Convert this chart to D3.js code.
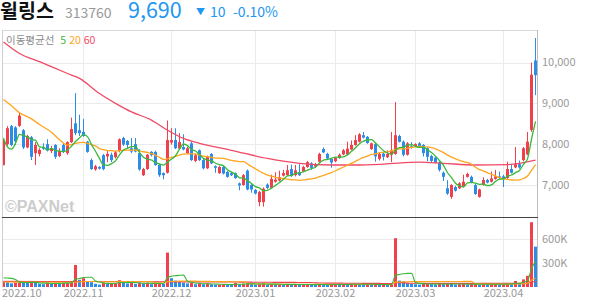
<!DOCTYPE html>
<html>
<head>
<meta charset="utf-8">
<script src="https://cdnjs.cloudflare.com/ajax/libs/d3/7.8.5/d3.min.js"></script>
<style>
body { margin: 0; background: #fff; }
svg { display: block; }
</style>
</head>
<body>
<svg></svg>
<script>
let dates = [
  "2022.09.30",
  "2022.10.04","2022.10.05","2022.10.06","2022.10.07","2022.10.11","2022.10.12","2022.10.13","2022.10.14","2022.10.17","2022.10.18",
  "2022.10.19","2022.10.20","2022.10.21","2022.10.24","2022.10.25","2022.10.26","2022.10.27","2022.10.28","2022.10.31",
  "2022.11.01","2022.11.02","2022.11.03","2022.11.04","2022.11.07","2022.11.08","2022.11.09","2022.11.10","2022.11.11","2022.11.14",
  "2022.11.15","2022.11.16","2022.11.17","2022.11.18","2022.11.21","2022.11.22","2022.11.23","2022.11.24","2022.11.25","2022.11.28",
  "2022.11.29","2022.11.30",
  "2022.12.01","2022.12.02","2022.12.05","2022.12.06","2022.12.07","2022.12.08","2022.12.09","2022.12.12","2022.12.13","2022.12.14",
  "2022.12.15","2022.12.16","2022.12.19","2022.12.20","2022.12.21","2022.12.22","2022.12.23","2022.12.26","2022.12.27","2022.12.28",
  "2022.12.29",
  "2023.01.02","2023.01.03","2023.01.04","2023.01.05","2023.01.06","2023.01.09","2023.01.10","2023.01.11","2023.01.12","2023.01.13",
  "2023.01.16","2023.01.17","2023.01.18","2023.01.19","2023.01.20","2023.01.25","2023.01.26","2023.01.27","2023.01.30","2023.01.31",
  "2023.02.01","2023.02.02","2023.02.03","2023.02.06","2023.02.07","2023.02.08","2023.02.09","2023.02.10","2023.02.13","2023.02.14",
  "2023.02.15","2023.02.16","2023.02.17","2023.02.20","2023.02.21","2023.02.22","2023.02.23","2023.02.24","2023.02.27","2023.02.28",
  "2023.03.02","2023.03.03","2023.03.06","2023.03.07","2023.03.08","2023.03.09","2023.03.10","2023.03.13","2023.03.14","2023.03.15",
  "2023.03.16","2023.03.17","2023.03.20","2023.03.21","2023.03.22","2023.03.23","2023.03.24","2023.03.27","2023.03.28","2023.03.29",
  "2023.03.30","2023.03.31",
  "2023.04.03","2023.04.04","2023.04.05","2023.04.06","2023.04.07","2023.04.10","2023.04.11","2023.04.12","2023.04.13"
]

let opens = [
  7490,8000,8440,8410,8450,8340,7920,8170,7780,7760, 7930,8000,7830,7980,7710,7980,7780,8050,8510,8340,
  8300,8060,7610,7380,7440,7730,7700,7740,7680,7830, 8150,8080,7900,8000,7780,7240,7390,7810,7810,7490,
  7290,7300,8040,8100,7890,7930,7780,8020,7590,7850, 7610,7410,7760,7460,7290,7440,7320,7290,7290,7040,
  7000,7350,7000,6880,6580,6580,7010,6930,7080,7110, 7230,7240,7390,7240,7320,7330,7440,7530,7450,7570,
  7880,7760,7640,7580,7660,7750,7750,7870,7980,8060, 8220,8180,7880,8000,7640,7770,7680,7740,7760,8200,
  8060,7740,7950,7950,8020,7980,7900,7710,7670,7550, 7300,6920,6710,6950,6920,6960,7200,7200,7000,6710,
  7000,7120,7080,7150,7210,7210,7170,7390,7430,7510, 7610,7750,8350,10050
]
let highs = [
  8120,8440,8470,8440,8780,8370,8230,8200,8050,7900, 8020,8120,7960,8000,7900,8020,8070,8650,9250,8720,
  8620,8080,7650,7490,7460,7760,7830,7790,7840,8140, 8180,8100,8150,8150,7880,7420,7760,7830,7840,7510,
  7310,8580,8390,8390,8270,8240,7930,8060,7760,7870, 7640,7720,7780,7480,7470,7470,7340,7320,7310,7060,
  7270,7380,7020,6900,6860,6940,7040,7250,7310,7350, 7370,7490,7500,7490,7510,7470,7590,7560,7540,7790,
  7920,7790,7660,7680,7770,7880,8060,8090,8220,8270, 8300,8200,8040,8030,7800,7800,7850,8300,9030,8230,
  8090,8050,8050,8020,8050,8000,7920,7740,7700,7580, 7330,7120,7020,6980,7070,7250,7300,7230,7030,6910,
  7190,7150,7330,7370,7330,7250,7570,7500,7930,7600, 7930,8300,10000,10600
]
let lows = [
  7480,7960,7950,7980,8420,7880,7900,7610,7490,7700, 7860,7820,7780,7640,7680,7780,7740,8030,8220,8200,
  8180,7790,7370,7350,7380,7360,7560,7560,7650,7800, 7960,7900,7780,7800,7350,7220,7370,7700,7470,7200,
  7140,7280,7990,7880,7870,7850,7760,7590,7560,7590, 7380,7390,7510,7300,7270,7260,7180,7220,7150,6870,
  6980,6870,6810,6770,6480,6470,6900,6910,7060,7090, 7210,7220,7200,7210,7220,7310,7420,7370,7430,7550,
  7780,7630,7420,7560,7640,7730,7730,7850,7960,8040, 8140,8010,7860,7570,7600,7600,7660,7560,7740,8040,
  7700,7720,7890,7930,7910,7700,7580,7560,7530,7330, 7100,6760,6660,6840,6900,6940,7180,7040,6760,6690,
  6980,7040,7060,7130,7150,6950,7150,7280,7410,7400, 7580,7730,8300,9200
]
let closes = [
  8070,8390,7980,8070,8700,7920,8200,7690,7980,7860, 7890,7850,7900,7690,7830,7810,8050,8370,8270,8270,
  8200,7810,7390,7460,7400,7390,7760,7610,7800,8120, 7990,7980,7820,7820,7380,7390,7740,7730,7490,7240,
  7240,8100,8100,7900,8050,7870,7900,7610,7730,7610, 7410,7690,7530,7420,7440,7280,7200,7240,7170,6990,
  7240,6890,6890,6790,6830,6910,6930,7150,7130,7190, 7290,7360,7220,7360,7240,7440,7560,7420,7510,7760,
  7800,7650,7550,7660,7740,7850,7890,7980,8100,8240, 8160,8030,8020,7700,7760,7690,7760,7850,8220,8060,
  7740,8020,7910,8000,7930,7780,7690,7590,7550,7370, 7200,6790,7000,6860,7040,7080,7270,7060,6780,6890,
  7120,7060,7160,7210,7170,7150,7390,7300,7510,7430, 7900,8060,9700,9690
]
// volume, thousands of shares
let volumes = [
  75,60,45,55,70,55,50,60,55,40, 35,50,40,55,45,50,55,60,275,90,
  110,70,60,40,30,55,40,45,50,85, 60,45,50,40,55,45,50,35,45,50,
  40,430,110,80,70,55,45,50,35,40, 35,45,35,30,30,35,30,25,50,35,
  40,45,35,30,40,45,30,35,30,35, 30,35,30,35,25,30,35,30,25,35,
  30,25,30,35,30,35,30,35,40,35, 30,35,30,35,25,30,25,40,610,80,
  70,50,40,35,30,40,45,35,30,40, 35,45,40,30,35,40,30,35,40,30,
  35,30,35,40,30,35,50,35,75,40, 95,140,810,505
]

let ma5Head = [[0, 8150], [1, 7930], [2, 7880], [3, 8020]]
let ma20Head = [[0, 9095], [2, 8940], [4, 8770], [7, 8620], [9, 8480], [12, 8290], [14, 8110], [16, 7975], [18, 8017]]
let ma60Line = [[0, 10500], [4, 10220], [9, 10020], [16, 9730], [19, 9610], [24, 9240], [28, 9000], [32, 8790],
  [37, 8590], [41, 8340], [45, 8140], [49, 8020], [57, 7850], [66, 7650], [74, 7530], [82, 7490], [88, 7490],
  [95, 7510], [104, 7560], [110, 7530], [118, 7490], [126, 7500], [133, 7610]]
let volMa5Head = [[0, 115], [1, 112], [2, 108], [3, 95]]
let volMa20Head = [[0, 62], [10, 60], [18, 60]]
let volMa60Head = [[0, 70], [20, 68], [40, 65], [58, 62]]

let priceTicks = [7000, 8000, 9000, 10000]
let volTicks = [300, 600]
let monthLabels = ["2022.10", "2022.11", "2022.12", "2023.01", "2023.02", "2023.03", "2023.04"]

let width = 594
let height = 304
let left = 2
let right = 537
let priceTop = 30
let priceBottom = 217
let volBottom = 287

let red = '#f0404b'
let blue = '#2d8ce6'
let green = '#3ab83a'
let orange = '#ffa51e'
let pink = '#f04a66'
let font = '"Noto Sans CJK KR", "Noto Sans", sans-serif'

let svg = d3.select('svg').attr('width', width).attr('height', height)

let xScale = d3.scaleBand().domain(dates).range([1, right]).padding(0)
let xMid = (i) => xScale(dates[i]) + 2.5
let yScale = d3.scaleLinear().domain([6216, 10796]).range([priceBottom, priceTop])
let vScale = d3.scaleLinear().domain([0, 875]).range([volBottom, priceBottom])

let movingAvg = (vals, n, head) => {
  let pts = head.map(([i, v]) => ({ i: i, v: v }))
  for (let i = n - 1; i < vals.length; i++) {
    pts.push({ i: i, v: d3.mean(vals.slice(i - n + 1, i + 1)) })
  }
  return pts
}

// clip paths
let defs = svg.append('defs')
defs.append('clipPath').attr('id', 'clipPrice').append('rect')
  .attr('x', left).attr('y', priceTop).attr('width', right - left).attr('height', priceBottom - priceTop)
defs.append('clipPath').attr('id', 'clipVol').append('rect')
  .attr('x', left).attr('y', priceBottom).attr('width', right - left).attr('height', volBottom - priceBottom)

// grid
let grid = svg.append('g')
grid.selectAll('.pg').data(priceTicks).enter().append('line')
  .attr('x1', left).attr('x2', right)
  .attr('y1', d => Math.round(yScale(d)) + 0.5).attr('y2', d => Math.round(yScale(d)) + 0.5)
  .attr('stroke', '#ebebeb')
grid.selectAll('.vg').data(volTicks).enter().append('line')
  .attr('x1', left).attr('x2', right)
  .attr('y1', d => Math.round(vScale(d)) + 0.5).attr('y2', d => Math.round(vScale(d)) + 0.5)
  .attr('stroke', '#ebebeb')

let monthPos = monthLabels.map(m => {
  let i = dates.findIndex(d => d.slice(0, 7) == m)
  return { label: m, x: xMid(i) }
})
grid.selectAll('.mg').data(monthPos.filter(d => d.x > 30)).enter().append('line')
  .attr('x1', d => d.x).attr('x2', d => d.x)
  .attr('y1', priceTop).attr('y2', volBottom)
  .attr('stroke', '#ebebeb')

// watermark
svg.append('text')
  .attr('x', 5).attr('y', 212)
  .attr('font-family', '"Liberation Sans", Arial, sans-serif')
  .attr('font-weight', 'bold').attr('font-size', 16)
  .attr('fill', '#cdcdcd')
  .text('©PAXNet')

// candles
let candles = svg.append('g').attr('clip-path', 'url(#clipPrice)')
candles.selectAll('line').data(dates).enter().append('line')
  .attr('x1', (d, i) => xMid(i)).attr('x2', (d, i) => xMid(i))
  .attr('y1', (d, i) => yScale(highs[i])).attr('y2', (d, i) => yScale(lows[i]))
  .attr('stroke', (d, i) => closes[i] >= opens[i] ? red : blue)
candles.selectAll('rect').data(dates).enter().append('rect')
  .attr('x', d => xScale(d) + 1)
  .attr('width', 3)
  .attr('y', (d, i) => yScale(Math.max(opens[i], closes[i])))
  .attr('height', (d, i) => Math.max(1, Math.abs(yScale(opens[i]) - yScale(closes[i]))))
  .attr('fill', (d, i) => closes[i] >= opens[i] ? red : blue)

// price moving averages
let priceLine = d3.line().x(d => xMid(d.i)).y(d => yScale(d.v)).curve(d3.curveMonotoneX)
let maG = svg.append('g').attr('clip-path', 'url(#clipPrice)').attr('fill', 'none').attr('stroke-width', 1.3)
maG.append('path').attr('d', priceLine(ma60Line.map(([i, v]) => ({ i: i, v: v })))).attr('stroke', pink)
maG.append('path').attr('d', priceLine(movingAvg(closes, 20, ma20Head))).attr('stroke', orange)
maG.append('path').attr('d', priceLine(movingAvg(closes, 5, ma5Head))).attr('stroke', green)

// volume bars, coloured by change against the previous day
let vols = svg.append('g').attr('clip-path', 'url(#clipVol)')
vols.selectAll('rect').data(dates).enter().append('rect')
  .attr('x', d => xScale(d) + 1)
  .attr('width', 3)
  .attr('y', (d, i) => vScale(volumes[i]))
  .attr('height', (d, i) => volBottom - vScale(volumes[i]))
  .attr('fill', (d, i) => (i == 0 || volumes[i] >= volumes[i - 1]) ? red : blue)

let volLine = d3.line().x(d => xMid(d.i)).y(d => vScale(d.v)).curve(d3.curveMonotoneX)
let vmaG = vols.append('g').attr('fill', 'none').attr('stroke-width', 1.1)
vmaG.append('path').attr('d', volLine(movingAvg(volumes, 60, volMa60Head))).attr('stroke', red)
vmaG.append('path').attr('d', volLine(movingAvg(volumes, 20, volMa20Head))).attr('stroke', orange)
vmaG.append('path').attr('d', volLine(movingAvg(volumes, 5, volMa5Head))).attr('stroke', green)

// frame
svg.append('line').attr('x1', left).attr('x2', right).attr('y1', priceTop + 0.5).attr('y2', priceTop + 0.5).attr('stroke', '#d8d8d8')
svg.append('line').attr('x1', left + 0.5).attr('x2', left + 0.5).attr('y1', priceTop).attr('y2', volBottom).attr('stroke', '#cfcfcf')
svg.append('line').attr('x1', right + 0.5).attr('x2', right + 0.5).attr('y1', priceTop).attr('y2', volBottom).attr('stroke', '#bdbdbd')
svg.append('line').attr('x1', left).attr('x2', right + 1).attr('y1', priceBottom + 0.5).attr('y2', priceBottom + 0.5).attr('stroke', '#444')

// axis labels
let axisText = svg.append('g').attr('font-family', font).attr('font-size', 11).attr('fill', '#999')
axisText.selectAll('.pt').data(priceTicks).enter().append('text')
  .attr('x', 542).attr('y', d => yScale(d)).attr('dy', '0.36em')
  .text(d => d3.format(',')(d))
axisText.selectAll('.vt').data(volTicks).enter().append('text')
  .attr('x', 542).attr('y', d => vScale(d)).attr('dy', '0.36em')
  .text(d => d + 'K')
axisText.selectAll('.mt').data(monthPos).enter().append('text')
  .attr('x', d => d.x < 30 ? 2 : d.x)
  .attr('text-anchor', d => d.x < 30 ? 'start' : 'middle')
  .attr('y', 293).attr('dy', '0.36em')
  .text(d => d.label)

// legend
let legend = svg.append('text').attr('x', 6).attr('y', 44).attr('font-family', font).attr('font-size', 10.5)
legend.append('tspan').attr('fill', '#8a8a8a').text('이동평균선')
legend.append('tspan').attr('fill', green).attr('dx', 6).text('5')
legend.append('tspan').attr('fill', orange).attr('dx', 3).text('20')
legend.append('tspan').attr('fill', pink).attr('dx', 3).text('60')

// header
let header = svg.append('g').attr('font-family', font)
header.append('text').attr('x', 0).attr('y', 18).attr('font-size', 19.5).attr('font-weight', 'bold').attr('fill', '#111').text('윌링스')
header.append('text').attr('x', 65).attr('y', 17.5).attr('font-size', 14).attr('fill', '#999').text('313760')
header.append('text').attr('x', 128).attr('y', 18).attr('font-size', 21.5).attr('fill', '#2196f3').text('9,690')
header.append('text').attr('x', 196).attr('y', 14.5).attr('font-size', 9).attr('fill', '#2196f3').text('▼')
header.append('text').attr('x', 210).attr('y', 16.5).attr('font-size', 14).attr('fill', '#2196f3').text('10')
header.append('text').attr('x', 233).attr('y', 16.5).attr('font-size', 14).attr('fill', '#2196f3').text('-0.10%')
</script>
</body>
</html>
